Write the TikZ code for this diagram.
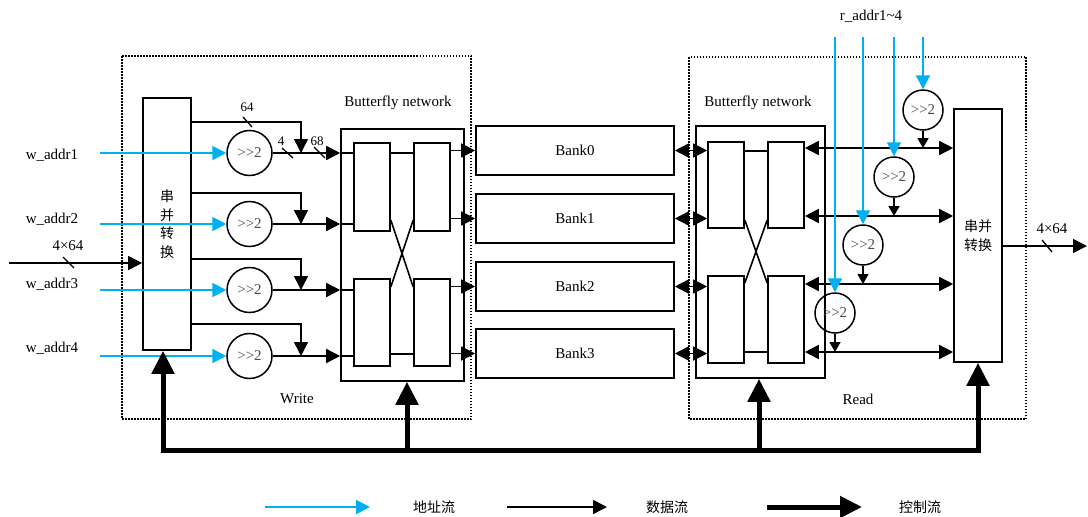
\documentclass[tikz,border=0pt]{standalone}
\usepackage{fontspec}
\setmainfont{Liberation Serif}
\newfontfamily\cjk{Noto Sans CJK SC}
\usetikzlibrary{arrows.meta}
\definecolor{addrblue}{RGB}{0,176,240}
\newcommand{\shr}{>\kern0pt>\kern0pt2}
\begin{document}
\begin{tikzpicture}[x=1pt,y=-1pt,
  font=\fontsize{15}{17}\selectfont,
  box/.style={draw, line width=1.6pt, inner sep=0pt},
  dotbox/.style={draw, line width=1.3pt, dash pattern=on 1.5pt off 1.5pt},
  circ/.style={draw, circle, line width=1.5pt, inner sep=0pt, text=black!70, font=\fontsize{15}{17}\selectfont},
  plain/.style={line width=1.6pt},
  data/.style={line width=1.6pt, -{Triangle[length=14pt,width=14pt]}},
  bidata/.style={line width=1.6pt, {Triangle[length=14pt,width=14pt]}-{Triangle[length=14pt,width=14pt]}},
  small/.style={line width=1.6pt, -{Triangle[length=10pt,width=11pt]}},
  addr/.style={line width=2pt, addrblue, -{Triangle[length=14pt,width=14pt]}},
  ctrl/.style={line width=5pt, -{Triangle[length=23pt,width=22pt]}},
  tick/.style={line width=1.3pt},
  lbl/.style={inner sep=0pt},
  cjkt/.style={inner sep=0pt, font=\cjk\fontsize{14}{18.5}\selectfont, align=center}
]
\useasboundingbox (0,0) rectangle (1088,517);

% dotted frames
\draw[dotbox] (122,56) rectangle (471,419);
\draw[dotbox] (689,57) rectangle (1026,419);

% ---------- write side ----------
\node[box, minimum width=48pt, minimum height=252pt, cjkt] (spw) at (167,224) {串\\并\\转\\换};
\node[circ, minimum size=45pt] (c1) at (249.5,153) {\shr};
\node[circ, minimum size=45pt] (c2) at (249.5,224) {\shr};
\node[circ, minimum size=45pt] (c3) at (249.5,290) {\shr};
\node[circ, minimum size=45pt] (c4) at (249.5,356) {\shr};

\node[box, minimum width=123pt, minimum height=252pt] (bfw) at (402.5,255) {};
\node[box, minimum width=36pt, minimum height=88pt] (wl1) at (372,187) {};
\node[box, minimum width=36pt, minimum height=87pt] (wl2) at (372,322.5) {};
\node[box, minimum width=36pt, minimum height=88pt] (wr1) at (432,187) {};
\node[box, minimum width=36pt, minimum height=87pt] (wr2) at (432,322.5) {};
\node[lbl] (bfwl) at (398,103) {Butterfly network};

% banks
\node[box, minimum width=198pt, minimum height=49pt] (b0) at (575,150.5) {Bank0};
\node[box, minimum width=198pt, minimum height=49pt] (b1) at (575,218.5) {Bank1};
\node[box, minimum width=198pt, minimum height=49pt] (b2) at (575,286.5) {Bank2};
\node[box, minimum width=198pt, minimum height=49pt] (b3) at (575,353.5) {Bank3};

% ---------- read side ----------
\node[box, minimum width=129pt, minimum height=252pt] (bfr) at (760.5,252) {};
\node[box, minimum width=36pt, minimum height=86pt] (rl1) at (726,185) {};
\node[box, minimum width=36pt, minimum height=87pt] (rl2) at (726,319.5) {};
\node[box, minimum width=36pt, minimum height=86pt] (rr1) at (786,185) {};
\node[box, minimum width=36pt, minimum height=87pt] (rr2) at (786,319.5) {};
\node[lbl] (bfrl) at (758,103) {Butterfly network};
\node[box, minimum width=48pt, minimum height=253pt, cjkt] (spr) at (978,235.5) {串并\\转换};
\node[circ, minimum size=40pt] (rc1) at (923,110) {\shr};
\node[circ, minimum size=40pt] (rc2) at (894,177) {\shr};
\node[circ, minimum size=40pt] (rc3) at (863,245) {\shr};
\node[circ, minimum size=40pt] (rc4) at (835,313) {\shr};

% labels
\node[lbl] (la1) at (52,155) {w\_addr1};
\node[lbl] (la2) at (52,219) {w\_addr2};
\node[lbl] (la3) at (52,284) {w\_addr3};
\node[lbl] (la4) at (52,348) {w\_addr4};
\node[lbl] (lin) at (68,246) {4×64};
\node[lbl] (lout) at (1052,229) {4×64};
\node[lbl] (lr) at (871,16) {r\_addr1\textasciitilde4};
\node[lbl] (lwrite) at (297,399) {Write};
\node[lbl] (lread) at (858,399) {Read};
\node[lbl, font=\fontsize{13}{15}\selectfont] (l64) at (247,107) {64};
\node[lbl, font=\fontsize{13}{15}\selectfont] (l4) at (281,141) {4};
\node[lbl, font=\fontsize{13}{15}\selectfont] (l68) at (317,141) {68};

% coordinates
\coordinate (t1) at (0,122); \coordinate (t2) at (0,193);
\coordinate (t3) at (0,259); \coordinate (t4) at (0,324);
\coordinate (jx) at (301,0);
\coordinate (wa) at (100,0);
\coordinate (in4) at (9,263);
\coordinate (out) at (1087,246);
\coordinate (xa) at (0,220); \coordinate (xb) at (0,287);
\coordinate (ya) at (0,220); \coordinate (yb) at (0,283);
\coordinate (wsa) at (0,153); \coordinate (wsb) at (0,354);
\coordinate (rsa) at (0,151); \coordinate (rsb) at (0,352);
\coordinate (r1) at (0,148); \coordinate (r2) at (0,216);
\coordinate (r3) at (0,284); \coordinate (r4) at (0,352);
\coordinate (rtop) at (0,37);
\coordinate (k1) at (163,450); \coordinate (k2) at (407,450);
\coordinate (k3) at (759,450); \coordinate (k4) at (978,450);

% input
\draw[data] (in4) -- (in4 -| spw.west);
\draw[tick] (63,257) -- (74,268);

% S/P to rows
\foreach \t/\c in {t1/c1,t2/c2,t3/c3,t4/c4}{
  \draw[data] (spw.east |- \t) -| (jx |- \c);
  \draw[data] (\c.east) -- (\c.east -| bfw.west);
  \draw[plain] (\c.east -| bfw.west) -- (\c.east -| wl1.west);
}
\draw[tick] (243,117) -- (252,127);
\draw[tick] (282,148) -- (293,158);
\draw[tick] (314,147) -- (325,158);

% write butterfly internals
\draw[plain] (wl1.east |- wsa) -- (wr1.west |- wsa);
\draw[plain] (wl2.east |- wsb) -- (wr2.west |- wsb);
\draw[plain] (wl1.east |- xa) -- (wr2.west |- xb);
\draw[plain] (wr1.west |- xa) -- (wl2.east |- xb);
\draw[data] (wr1.east |- b0) -- (b0.west);
\draw[data] (wr1.east |- b1) -- (b1.west);
\draw[data] (wr2.east |- b2) -- (b2.west);
\draw[data] (wr2.east |- b3) -- (b3.west);

% banks to read butterfly
\draw[bidata] (b0.east) -- (b0.east -| rl1.west);
\draw[bidata] (b1.east) -- (b1.east -| rl1.west);
\draw[bidata] (b2.east) -- (b2.east -| rl2.west);
\draw[bidata] (b3.east) -- (b3.east -| rl2.west);

% read butterfly internals
\draw[plain] (rl1.east |- rsa) -- (rr1.west |- rsa);
\draw[plain] (rl2.east |- rsb) -- (rr2.west |- rsb);
\draw[plain] (rl1.east |- ya) -- (rr2.west |- yb);
\draw[plain] (rr1.west |- ya) -- (rl2.east |- yb);

% read rows
\draw[bidata] (rr1.east |- r1) -- (spr.west |- r1);
\draw[bidata] (rr1.east |- r2) -- (spr.west |- r2);
\draw[bidata] (rr2.east |- r3) -- (spr.west |- r3);
\draw[bidata] (rr2.east |- r4) -- (spr.west |- r4);
\draw[small] (rc1.south) -- (rc1.south |- r1);
\draw[small] (rc2.south) -- (rc2.south |- r2);
\draw[small] (rc3.south) -- (rc3.south |- r3);
\draw[small] (rc4.south) -- (rc4.south |- r4);

% output
\draw[data] (spr.east |- out) -- (out);
\draw[tick] (1042,240) -- (1052,252);

% address (blue)
\foreach \c in {c1,c2,c3,c4}{
  \draw[addr] (wa |- \c.west) -- (\c.west);
}
\foreach \c in {rc1,rc2,rc3,rc4}{
  \draw[addr] (\c.north |- rtop) -- (\c.north);
}

% control
\draw[line width=5pt, line cap=rect] (k1) -- (k4);
\draw[ctrl] (k1) -- (k1 |- spw.south);
\draw[ctrl] (k2) -- (k2 |- bfw.south);
\draw[ctrl] (k3) -- (k3 |- bfr.south);
\draw[ctrl] (k4) -- (k4 |- spr.south);

% legend
\coordinate (g1a) at (265,507); \coordinate (g1b) at (370,507);
\coordinate (g2a) at (507,507); \coordinate (g2b) at (607,507);
\coordinate (g3a) at (767,507); \coordinate (g3b) at (862,507);
\draw[addr] (g1a) -- (g1b);
\draw[data] (g2a) -- (g2b);
\draw[line width=5pt, -{Triangle[length=22pt,width=21pt]}] (g3a) -- (g3b);
\node[lbl, font=\cjk\fontsize{14}{16}\selectfont] (lg1) at (434,507) {地址流};
\node[lbl, font=\cjk\fontsize{14}{16}\selectfont] (lg2) at (667,507) {数据流};
\node[lbl, font=\cjk\fontsize{14}{16}\selectfont] (lg3) at (920,507) {控制流};
\end{tikzpicture}
\end{document}
